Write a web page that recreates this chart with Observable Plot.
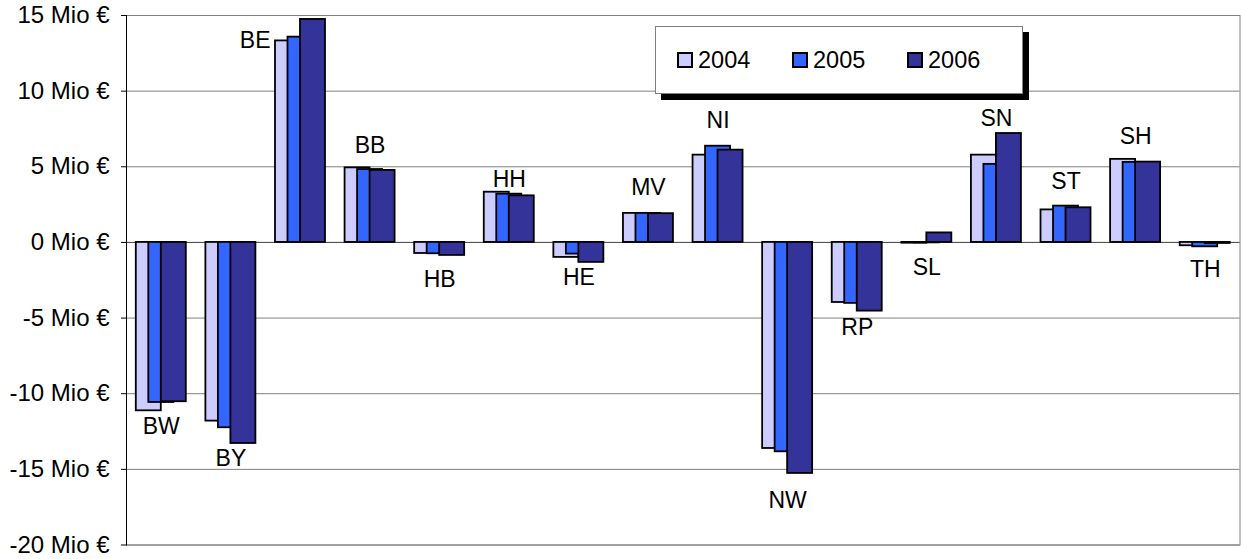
<!DOCTYPE html>
<html>
<head>
<meta charset="utf-8">
<script src="https://cdn.jsdelivr.net/npm/d3@7"></script>
<script src="https://cdn.jsdelivr.net/npm/@observablehq/plot@0.6"></script>
<style>
  html, body { margin: 0; padding: 0; background: #fff; }
  #wrap { position: relative; width: 1241px; height: 559px; font-family: "Liberation Sans", Arial, sans-serif; }
  #legend {
    position: absolute; left: 655px; top: 26px; width: 345px; height: 66px;
    background: #fff; border: 1px solid #808080; box-shadow: 6px 6px 0 #000;
    display: flex; align-items: center; padding-left: 21px; box-sizing: content-box;
  }
  #legend .item { display: flex; align-items: center; width: 116.3px; font-size: 23.5px; color: #000; }
  #legend .sw { width: 12px; height: 12px; border: 2px solid #000; margin-right: 5px; }
</style>
</head>
<body>
<div id="wrap"></div>
<script>
// Categories (German federal states)
const states = ["BW","BY","BE","BB","HB","HH","HE","MV","NI","NW","RP","SL","SN","ST","SH","TH"];
// Series values in Mio €
const v2004 = [-11.13,-11.81,13.32,4.93,-0.73,3.32,-0.99,1.92,5.77,-13.62,-3.97,-0.05,5.77,2.15,5.49,-0.22];
const v2005 = [-10.58,-12.25,13.57,4.82,-0.75,3.19,-0.77,1.92,6.36,-13.84,-4.03,-0.03,5.16,2.40,5.29,-0.29];
const v2006 = [-10.53,-13.29,14.74,4.76,-0.86,3.08,-1.32,1.90,6.10,-15.27,-4.54,0.63,7.20,2.29,5.31,-0.07];
// Category label values (hidden label series, Mio €)
const labelAt = [-12.19,-14.28,13.37,6.43,-2.43,4.12,-2.34,3.61,8.04,-17.08,-5.62,-1.68,8.2,4.05,6.98,-1.83];
// Series names and colours
const years = ["2004","2005","2006"];
const colors = ["#CCCCFF","#3366FF","#333399"];
// Tick values
const yTicks = [-20,-15,-10,-5,0,5,10,15];

const seriesVals = [v2004, v2005, v2006];
const rows = years.map((yr, k) => states.map((s, i) => ({state: s, year: yr, value: seriesVals[k][i]})));
const labels = states.map((s, i) => ({state: s, at: labelAt[i]}));

const barW = 25, step = 12.5;
const bandW = (1241 - 126 - 1.5) / states.length;
const inset = (bandW - barW) / 2;

const font = "'Liberation Sans', Arial, sans-serif";

const chart = Plot.plot({
  width: 1241,
  height: 559,
  marginLeft: 126,
  marginRight: 1.5,
  marginTop: 15,
  marginBottom: 14.5,
  style: {fontFamily: font, fontSize: "23px", background: "#fff", color: "#000"},
  x: {domain: states, padding: 0, round: false, axis: null},
  y: {domain: [-20, 15], axis: null},
  color: {domain: years, range: colors},
  marks: [
    Plot.gridY(yTicks, {stroke: "#808080", strokeOpacity: 1, strokeWidth: 1}),
    Plot.frame({stroke: "#808080", strokeWidth: 1}),
    Plot.axisY({ticks: yTicks, tickFormat: d => `${d} Mio €`, tickSize: 5, tickPadding: 12, fontSize: 24, stroke: "#000", label: null}),
    Plot.ruleY([0], {stroke: "#505050", strokeWidth: 1}),
    ...rows.map((r, k) => Plot.barY(r, {
      x: "state", y: "value", fill: "year", stroke: "#000", strokeWidth: 1.8,
      insetLeft: inset, insetRight: inset, dx: (k - 1) * step
    })),
    Plot.text(labels.filter(d => d.state !== "BE"), {x: "state", y: "at", text: "state", fontSize: 23, fill: "#000"}),
    Plot.text(labels.filter(d => d.state === "BE"), {x: "state", y: "at", text: "state", fontSize: 23, fill: "#000", textAnchor: "end", dx: -30}),
    Plot.frame({anchor: "left", stroke: "#000", strokeWidth: 1})
  ]
});

const wrap = document.getElementById("wrap");
wrap.appendChild(chart);

// Legend built from the series names/colours
const lg = d3.select(wrap).append("div").attr("id", "legend");
const items = lg.selectAll(".item").data(years).join("div").attr("class", "item");
items.append("div").attr("class", "sw").style("background", (d, i) => colors[i]);
items.append("span").text(d => d);
</script>
</body>
</html>
